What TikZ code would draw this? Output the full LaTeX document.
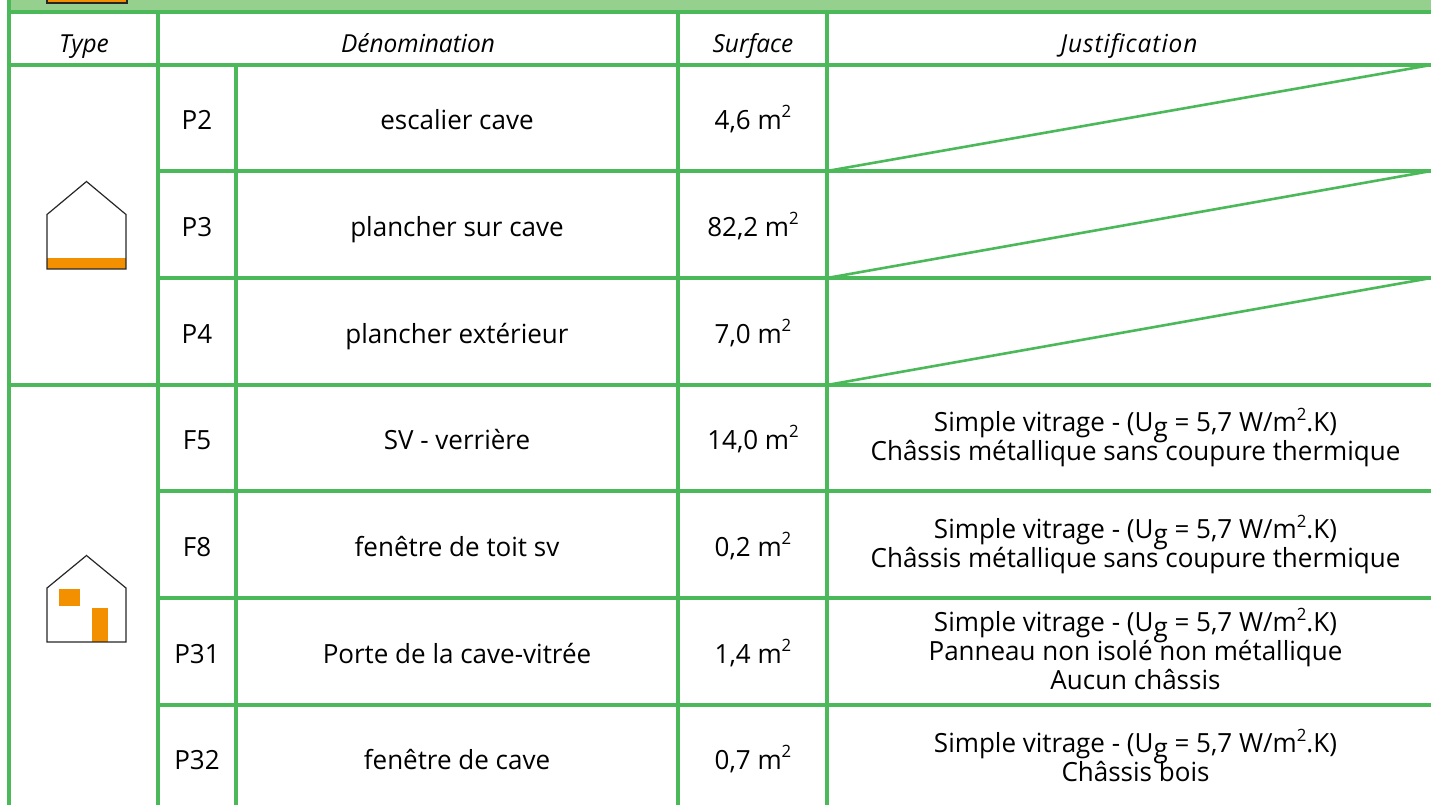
\documentclass[tikz,border=0pt]{standalone}
\usepackage{fontspec}
\setmainfont[FakeStretch=0.985]{Open Sans}
\definecolor{gridgreen}{HTML}{4BB85A}
\definecolor{barGreen}{HTML}{95D08F}
\definecolor{houseorange}{HTML}{F39000}
\newcommand{\Ug}{U\smash{\raisebox{-0.17em}{g}}}
\newcommand{\msq}{m\smash{\raisebox{0.42em}{\fontsize{8.5}{8.5}\selectfont 2}}}
\newcommand{\SV}{Simple vitrage - (\Ug{} = 5,7 W/\msq.K)}
\tikzset{
  x=0.5pt,y=-0.5pt,
  grid/.style={draw=gridgreen,line width=1.6pt},
  thin grid/.style={draw=gridgreen,line width=1.3pt},
  txt/.style={inner sep=0pt,align=center,text=black,font=\fontsize{13.2}{14.5}\selectfont},
  head/.style={txt,font=\fontsize{12.4}{14}\selectfont\itshape},
  rowtxt/.style={txt,anchor=base},
  house/.style={draw=black!85,line width=0.6pt,line join=miter},
  orange/.style={fill=houseorange,draw=none}
}
\begin{document}
\begin{tikzpicture}
\useasboundingbox (0,0) rectangle (1431,805);
\fill[barGreen] (9,0) rectangle (1431,12);
\fill[houseorange,draw=black!85,line width=0.6pt] (47,-5) rectangle (127,3);
% grid coordinates
\foreach \n/\y in {a/12,b/65,c/171,d/278,e/385,f/491,g/598,h/705}{
  \coordinate (L\n) at (9,\y);
  \coordinate (T\n) at (158,\y);
  \coordinate (N\n) at (236,\y);
  \coordinate (S\n) at (678,\y);
  \coordinate (J\n) at (827,\y);
  \coordinate (R\n) at (1431,\y);
}
\coordinate (Lz) at (9,805); \coordinate (Tz) at (158,805); \coordinate (Nz) at (236,805);
\coordinate (Sz) at (678,805); \coordinate (Jz) at (827,805);
\draw[grid] (9,0) -- (Lz);
\draw[grid] (La) -- (Ra);
\draw[grid] (Ta) -- (Tz);
\draw[grid] (Nb) -- (Nz);
\draw[grid] (Sa) -- (Sz);
\draw[grid] (Ja) -- (Jz);
\draw[grid] (Lb) -- (Rb);
\draw[grid] (Tc) -- (Rc);
\draw[grid] (Td) -- (Rd);
\draw[grid] (Le) -- (Re);
\draw[grid] (Tf) -- (Rf);
\draw[grid] (Tg) -- (Rg);
\draw[grid] (Th) -- (Rh);
\draw[thin grid] (Jc) -- (Rb);
\draw[thin grid] (Jd) -- (Rc);
\draw[thin grid] (Je) -- (Rd);
% header
\node[head,anchor=base] (h1) at (84,52) {Type};
\node[head,anchor=base] (h2) at (418,52) {Dénomination};
\node[head,anchor=base] (h3) at (753,52) {Surface};
\node[head,anchor=base] (h4) at (1129,52) {\addfontfeature{LetterSpace=4}Justification};
% rows
\node[rowtxt] (p2) at (197,129) {P2};
\node[rowtxt] (n2) at (457,129) {escalier cave};
\node[rowtxt] (s2) at (753,129) {4,6 \msq};
\node[rowtxt] (p3) at (197,236) {P3};
\node[rowtxt] (n3) at (457,236) {plancher sur cave};
\node[rowtxt] (s3) at (753,236) {82,2 \msq};
\node[rowtxt] (p4) at (197,343) {P4};
\node[rowtxt] (n4) at (457,343) {plancher extérieur};
\node[rowtxt] (s4) at (753,343) {7,0 \msq};
\node[rowtxt] (p5) at (197,449) {F5};
\node[rowtxt] (n5) at (457,449) {SV - verrière};
\node[rowtxt] (s5) at (753,449) {14,0 \msq};
\node[txt] (j5) at (1135.5,439.5) {\SV\\Châssis métallique sans coupure thermique};
\node[rowtxt] (p6) at (197,556) {F8};
\node[rowtxt] (n6) at (457,556) {fenêtre de toit sv};
\node[rowtxt] (s6) at (753,556) {0,2 \msq};
\node[txt] (j6) at (1135.5,546.5) {\SV\\Châssis métallique sans coupure thermique};
\node[rowtxt] (p7) at (197,663) {P31};
\node[rowtxt] (n7) at (457,663) {Porte de la cave-vitrée};
\node[rowtxt] (s7) at (753,663) {1,4 \msq};
\node[txt] (j7) at (1135.5,651) {\SV\\Panneau non isolé non métallique\\Aucun châssis};
\node[rowtxt] (p8) at (197,769) {P32};
\node[rowtxt] (n8) at (457,769) {fenêtre de cave};
\node[rowtxt] (s8) at (753,769) {0,7 \msq};
\node[txt] (j8) at (1135.5,757.5) {\SV\\Châssis bois};
% house 1
\fill[orange] (47,258) rectangle (126,269);
\draw[house] (47,269) -- (47,214.5) -- (86.5,181.5) -- (126,214.5) -- (126,269) -- cycle;
% house 2
\fill[orange] (59,589) rectangle (80,606);
\fill[orange] (91.5,608) rectangle (108,642);
\draw[house] (47,642) -- (47,588) -- (86.5,555.5) -- (126,588) -- (126,642) -- cycle;
\end{tikzpicture}
\end{document}
